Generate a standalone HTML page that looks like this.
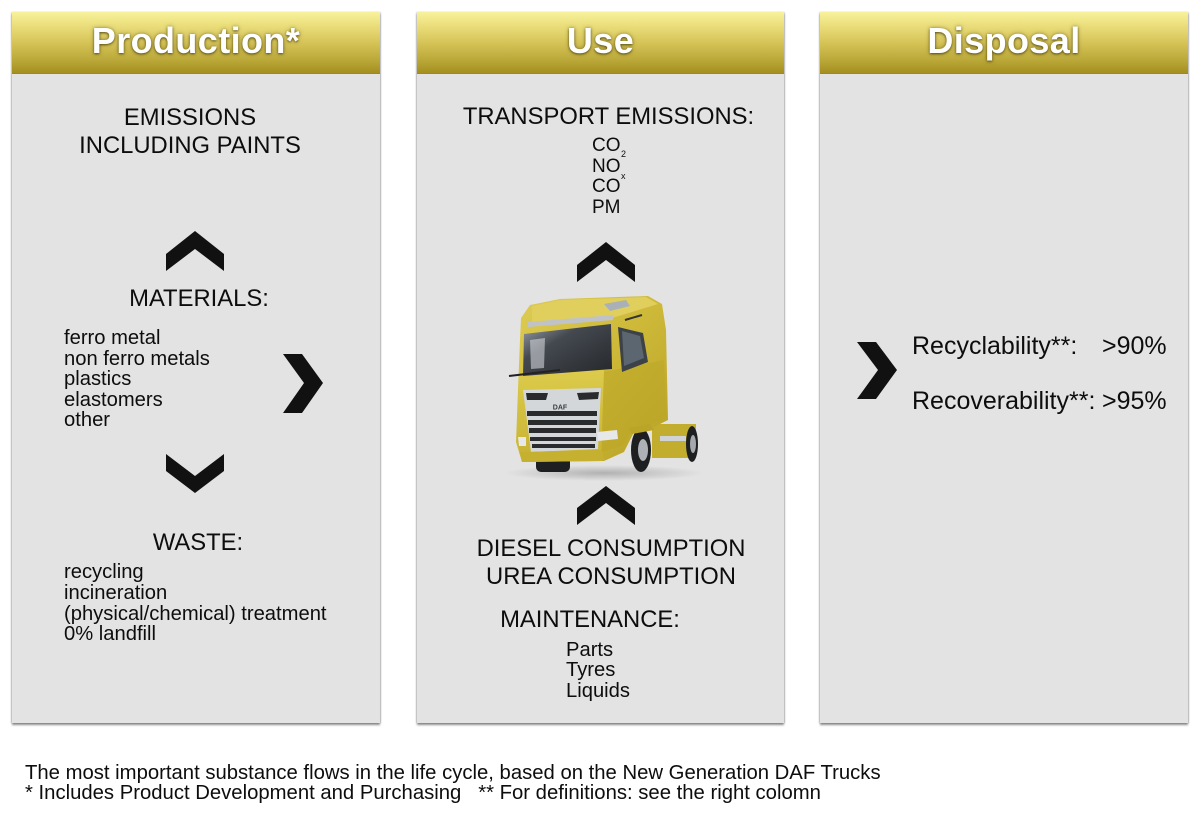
<!DOCTYPE html>
<html>
<head>
<meta charset="utf-8">
<style>
  html,body{margin:0;padding:0;background:#fff;}
  body{width:1200px;height:821px;position:relative;overflow:hidden;font-family:"Liberation Sans",Arial,sans-serif;color:#0d0d0d;}
  .panel{position:absolute;top:12px;height:711px;background:#e3e3e3;box-shadow:0 2px 2px rgba(0,0,0,0.45),1px 0 1px rgba(0,0,0,0.15),-1px 0 1px rgba(0,0,0,0.12);}
  .hdr{position:absolute;left:0;top:0;right:0;height:61px;background:linear-gradient(#f8f29c 0%,#ece07e 20%,#d6c458 50%,#bba93a 78%,#a48f1f 100%);border-bottom:1px solid #9a8a22;}
  .ht{position:absolute;top:-2px;left:0;right:0;height:61px;line-height:61px;text-align:center;color:#fff;font-weight:bold;font-size:36px;letter-spacing:0.4px;text-shadow:0 1px 2px rgba(60,50,0,0.7),0 0 4px rgba(80,70,0,0.5);}
  .t{position:absolute;white-space:nowrap;}
  .h{font-size:23.8px;line-height:27.5px;text-align:center;width:400px;}
  .l{font-size:20.2px;line-height:20.6px;}
  .d{font-size:25px;line-height:27px;}
</style>
</head>
<body>

<div class="panel" style="left:12px;width:368px;"><div class="hdr"></div><div class="ht">Production*</div></div>
<div class="panel" style="left:417px;width:367px;"><div class="hdr"></div><div class="ht">Use</div></div>
<div class="panel" style="left:820px;width:368px;"><div class="hdr"></div><div class="ht">Disposal</div></div>

<!-- Production texts -->
<div class="t h" style="left:-10px;top:104px;">EMISSIONS<br>INCLUDING PAINTS</div>
<div class="t h" style="left:-1px;top:285px;">MATERIALS:</div>
<div class="t l" style="left:64px;top:328px;line-height:20.5px;">ferro metal<br>non ferro metals<br>plastics<br>elastomers<br>other</div>
<div class="t h" style="left:-2px;top:529px;">WASTE:</div>
<div class="t l" style="left:64px;top:562px;line-height:20.8px;">recycling<br>incineration<br>(physical/chemical) treatment<br>0% landfill</div>

<!-- Use texts -->
<div class="t h" style="left:408.5px;top:103px;">TRANSPORT EMISSIONS:</div>
<div class="t" style="left:592px;top:136px;font-size:19px;line-height:20.7px;">CO<br>NO<br>CO<br>PM</div>
<div class="t" style="left:621px;top:150px;font-size:9px;line-height:9px;">2</div>
<div class="t" style="left:621px;top:172px;font-size:9px;line-height:9px;">x</div>
<div class="t h" style="left:411px;top:535px;">DIESEL CONSUMPTION<br>UREA CONSUMPTION</div>
<div class="t h" style="left:390px;top:606px;">MAINTENANCE:</div>
<div class="t l" style="left:566px;top:640px;line-height:20.3px;">Parts<br>Tyres<br>Liquids</div>

<!-- Disposal texts -->
<div class="t d" style="left:912px;top:333px;">Recyclability**:</div>
<div class="t d" style="left:1102px;top:333px;">&gt;90%</div>
<div class="t d" style="left:912px;top:388px;">Recoverability**:</div>
<div class="t d" style="left:1102px;top:388px;">&gt;95%</div>

<!-- Footer -->
<div class="t" style="left:25px;top:763px;font-size:20.3px;line-height:20px;white-space:pre;">The most important substance flows in the life cycle, based on the New Generation DAF Trucks
* Includes Product Development and Purchasing   ** For definitions: see the right colomn</div>

<svg width="1200" height="821" style="position:absolute;left:0;top:0;" xmlns="http://www.w3.org/2000/svg">
  <defs>
    <linearGradient id="cab" x1="0" y1="0" x2="1" y2="1">
      <stop offset="0" stop-color="#ddcc55"/>
      <stop offset="0.5" stop-color="#cdb838"/>
      <stop offset="1" stop-color="#b8a226"/>
    </linearGradient>
    <linearGradient id="front" x1="0" y1="0" x2="0" y2="1">
      <stop offset="0" stop-color="#dccb4c"/>
      <stop offset="1" stop-color="#c7b132"/>
    </linearGradient>
    <linearGradient id="glass" x1="0" y1="0" x2="1" y2="1">
      <stop offset="0" stop-color="#9aa0a8"/>
      <stop offset="0.35" stop-color="#444950"/>
      <stop offset="1" stop-color="#24272a"/>
    </linearGradient>
    <radialGradient id="shadow" cx="0.5" cy="0.5" r="0.5">
      <stop offset="0" stop-color="rgba(0,0,0,0.22)"/>
      <stop offset="1" stop-color="rgba(0,0,0,0)"/>
    </radialGradient>
  </defs>

  <!-- Production chevrons -->
  <polygon points="195,231 224,254 224,271 195,249 166,271 166,254" fill="#111"/>
  <polygon points="283,354 302,354 323,383 302,413 283,413 304,383" fill="#111"/>
  <polygon points="166,454 195,476 224,454 224,471 195,493 166,471" fill="#111"/>

  <!-- Use chevrons -->
  <polygon points="606,242 635,265 635,282 606,260 577,282 577,265" fill="#111"/>
  <polygon points="606,486 635,508 635,525 606,503 577,525 577,508" fill="#111"/>

  <!-- Disposal chevron -->
  <polygon points="857,342 876,342 897,370 876,399 857,399 878,370" fill="#111"/>

  <!-- Truck -->
  <ellipse cx="604" cy="473" rx="100" ry="8" fill="url(#shadow)"/>
  <!-- rear chassis -->
  <rect x="652" y="424" width="44" height="34" fill="#c3ad2f"/>
  <rect x="660" y="436" width="26" height="5" fill="#d0d3d6"/>
  <ellipse cx="692" cy="444" rx="6" ry="18" fill="#1e1f21"/>
  <ellipse cx="693" cy="444" rx="3" ry="9" fill="#a5a9ad"/>
  <!-- under bumper / left front wheel -->
  <rect x="536" y="455" width="34" height="17" rx="5" fill="#1e1f21"/>
  <!-- cab body -->
  <polygon points="521,318 530,305 560,299 648,296 662,304 666,330 668,420 652,428 636,428 624,452 604,461 522,462 516,442 518,390 520,340" fill="url(#cab)"/>
  <!-- side panel shading -->
  <polygon points="603,372 664,360 666,418 650,424 634,426 622,446 602,452" fill="#bba526" opacity="0.5"/>
  <!-- front face -->
  <polygon points="519,374 604,370 601,461 522,462 517,440" fill="url(#front)"/>
  <!-- roof spoiler highlight -->
  <polygon points="532,306 560,300 646,297 658,304 612,318 532,322" fill="#e0cf5c"/>
  <polygon points="604,304 626,300 630,306 610,311" fill="#a9b0b8"/>
  <!-- silver trim above windshield -->
  <polygon points="528,322 613,315 613,320 528,327" fill="#bfc3c7"/>
  <!-- windshield -->
  <polygon points="524,334 611,324 612,369 523,376" fill="url(#glass)"/>
  <polygon points="530,340 545,338 544,368 531,369" fill="#d0d4d8" opacity="0.6"/>
  <!-- side window -->
  <polygon points="618,327 643,333 648,362 622,372" fill="#3d4248"/>
  <polygon points="622,331 640,336 644,358 624,366" fill="#5c6670"/>
  <!-- mirror arm / wiper -->
  <line x1="509" y1="376" x2="560" y2="370" stroke="#222" stroke-width="2"/>
  <line x1="625" y1="320" x2="642" y2="315" stroke="#333" stroke-width="2"/>
  <!-- grille -->
  <polygon points="523,390 601,388 598,449 531,452" fill="#d4d7da"/>
  <polygon points="526,393 548,393 546,400 527,400" fill="#2a2b2d"/>
  <polygon points="577,393 599,392 598,399 579,400" fill="#2a2b2d"/>
  <text x="560" y="409.5" font-family="Liberation Sans, Arial, sans-serif" font-weight="bold" font-size="7" fill="#3a3c3e" text-anchor="middle">DAF</text>
  <rect x="527" y="411" width="70" height="5" fill="#2a2b2d"/>
  <rect x="528" y="420" width="69" height="5" fill="#2a2b2d"/>
  <rect x="529" y="428" width="67" height="5" fill="#2a2b2d"/>
  <rect x="530" y="437" width="66" height="4" fill="#2a2b2d"/>
  <rect x="532" y="444" width="63" height="4" fill="#2a2b2d"/>
  <!-- headlights -->
  <polygon points="597,432 617,430 618,439 598,441" fill="#e6e8ea"/>
  <polygon points="518,437 526,437 526,446 519,446" fill="#e6e8ea"/>
  <!-- bumper -->
  <polygon points="520,452 602,450 604,460 522,462" fill="#c6b030"/>
  <!-- right front wheel -->
  <ellipse cx="641" cy="450" rx="10" ry="22" fill="#1e1f21"/>
  <ellipse cx="643" cy="450" rx="5" ry="11" fill="#adb1b5"/>
  <polygon points="628,428 650,424 654,430 632,434" fill="#bba526"/>
</svg>

</body>
</html>
